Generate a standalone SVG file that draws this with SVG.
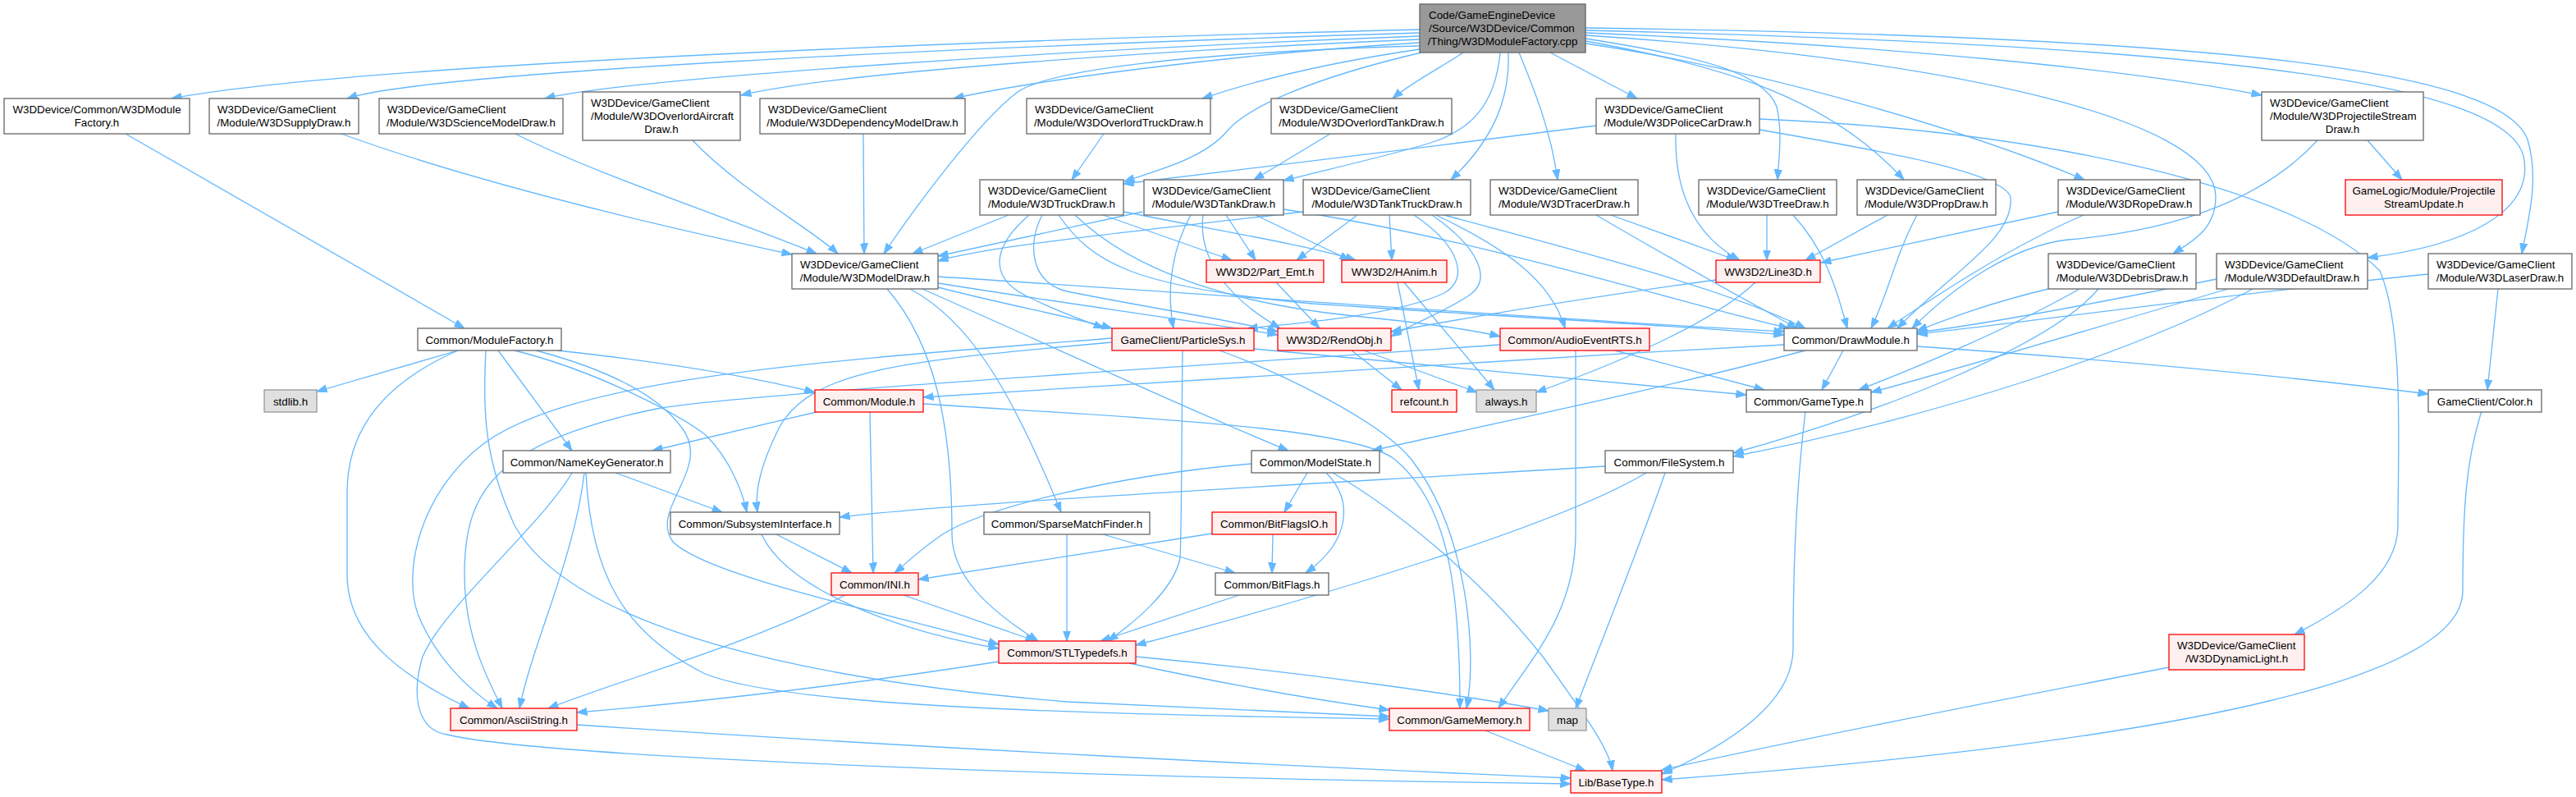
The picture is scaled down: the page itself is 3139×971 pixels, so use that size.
<svg xmlns="http://www.w3.org/2000/svg" width="3139" height="971" viewBox="0 0 3139 971">
<defs>
<marker id="a" markerWidth="14" markerHeight="11" refX="12.5" refY="5" orient="auto" markerUnits="userSpaceOnUse"><path d="M0,0.5 L12.5,5 L0,9.5 z" fill="#63b8ff" stroke="#63b8ff" stroke-width="1"/></marker>
</defs>
<style>
rect{fill:#ffffff;stroke:#666666;stroke-width:1.3}
.r rect{fill:#fff0f0;stroke:#ff0000}
.g rect{fill:#e0e0e0;stroke:#999999}
.root rect{fill:#999999;stroke:#666666}
text{font-family:"Liberation Sans",Arial,Helvetica,sans-serif;font-size:13.33px;fill:#000000}
.m{text-anchor:middle}
#edges path{fill:none;stroke:#63b8ff;stroke-width:1.3;marker-end:url(#a)}
</style>
<rect x="0" y="0" width="3139" height="971" style="fill:#ffffff;stroke:none"/>
<g id="edges">
<path d="M1730,36 C1150,50 420,80 209,120"/>
<path d="M1730,40 C1150,58 520,88 423,120"/>
<path d="M1730,44 C1300,60 760,96 664,120"/>
<path d="M1730,48 C1450,60 1030,86 903,116"/>
<path d="M1730,52 C1500,66 1260,98 1162,120"/>
<path d="M1730,56 C1450,64 1280,85 1240,112 C1190,150 1110,260 1077,309"/>
<path d="M1730,60 C1620,76 1530,98 1465,120"/>
<path d="M1732,64 C1600,95 1520,130 1495,160 C1470,190 1420,205 1370,221"/>
<path d="M1783,64 C1760,80 1720,100 1697,120"/>
<path d="M1828,64 C1822,130 1790,160 1740,175 C1680,193 1610,208 1564,220"/>
<path d="M1838,64 C1840,120 1820,170 1768,219"/>
<path d="M1851,64 C1870,110 1890,160 1898,219"/>
<path d="M1889,64 L1995,120"/>
<path d="M1932,47 C2080,70 2150,90 2165,130 C2172,160 2168,190 2166,219"/>
<path d="M1932,50 C2100,80 2230,120 2320,219"/>
<path d="M1932,53 C2150,85 2400,160 2540,219"/>
<path d="M1932,43 C2350,70 2700,140 2700,240 C2700,280 2670,295 2648,309"/>
<path d="M1932,40 C2300,55 2600,85 2756,116"/>
<path d="M1932,37 C2700,55 3050,100 3075,190 C3090,260 3000,300 2885,314"/>
<path d="M1932,34 C2750,45 3050,90 3080,170 C3095,220 3080,270 3073,309"/>
<path d="M153,163 L566,400"/>
<path d="M416,163 C600,230 850,285 965,310"/>
<path d="M628,163 C720,210 900,270 995,309"/>
<path d="M844,171 C900,230 990,280 1021,309"/>
<path d="M1052,163 L1053,309"/>
<path d="M1345,163 L1306,219"/>
<path d="M1621,163 L1528,219"/>
<path d="M1945,153 C1750,178 1500,208 1369,224"/>
<path d="M2042,163 C2040,240 2070,290 2120,317"/>
<path d="M2144,158 C2300,185 2440,210 2450,240 C2455,290 2380,330 2312,400"/>
<path d="M2144,145 C2500,160 2800,230 2900,330 C2930,400 2922,550 2922,640 C2922,700 2860,740 2796,773"/>
<path d="M2885,171 L2927,219"/>
<path d="M2824,171 C2760,240 2660,280 2520,292 C2450,300 2380,350 2330,400"/>
<path d="M1229,262 L1112,309"/>
<path d="M1344,262 L1501,317"/>
<path d="M1369,258 C1480,280 1600,300 1652,317"/>
<path d="M1254,262 C1210,300 1200,340 1260,365 C1290,380 1320,390 1345,400"/>
<path d="M1270,262 C1250,300 1258,345 1300,355 C1400,375 1500,390 1557,404"/>
<path d="M1290,262 C1330,320 1380,350 1600,370 C1900,390 2100,400 2174,408"/>
<path d="M1310,262 C1380,330 1500,370 1650,385 C1750,395 1800,403 1828,410"/>
<path d="M1392,258 L1143,312"/>
<path d="M1451,262 C1430,300 1420,350 1430,400"/>
<path d="M1466,262 C1460,310 1490,360 1560,400"/>
<path d="M1494,262 L1530,317"/>
<path d="M1530,262 L1645,317"/>
<path d="M1564,255 C1800,290 2050,370 2180,400"/>
<path d="M1588,258 C1400,280 1200,300 1143,318"/>
<path d="M1654,262 L1580,317"/>
<path d="M1693,262 L1696,317"/>
<path d="M1723,262 C1780,300 1790,340 1760,357 C1700,385 1570,395 1520,400"/>
<path d="M1745,262 C1800,300 1820,340 1790,360 C1760,380 1720,395 1695,410"/>
<path d="M1750,262 C1830,300 1890,340 1907,400"/>
<path d="M1760,262 C1900,300 2100,350 2200,400"/>
<path d="M1963,262 L2116,317"/>
<path d="M1945,262 C2010,300 2080,340 2190,400"/>
<path d="M2153,262 L2153,317"/>
<path d="M2185,262 C2220,300 2235,340 2251,400"/>
<path d="M2300,262 L2200,317"/>
<path d="M2336,262 C2310,310 2300,360 2280,400"/>
<path d="M2508,258 L2219,320"/>
<path d="M2539,262 C2450,300 2360,360 2300,400"/>
<path d="M2496,352 C2420,370 2370,390 2336,403"/>
<path d="M2534,352 C2450,400 2330,450 2265,475"/>
<path d="M2557,352 C2500,420 2300,500 2112,552"/>
<path d="M2701,340 C2550,370 2420,395 2336,405"/>
<path d="M2715,352 C2550,400 2350,460 2280,478"/>
<path d="M2745,352 C2600,430 2350,510 2112,556"/>
<path d="M2959,334 C2700,360 2450,395 2336,407"/>
<path d="M3044,352 L3031,475"/>
<path d="M1143,337 C1500,360 1900,390 2174,404"/>
<path d="M1143,345 C1300,370 1450,390 1557,408"/>
<path d="M1143,350 C1220,370 1300,385 1355,400"/>
<path d="M1124,352 C1300,430 1450,500 1570,549"/>
<path d="M1109,352 C1180,390 1230,470 1293,624"/>
<path d="M1081,352 C1140,420 1160,520 1160,650 C1160,700 1200,740 1265,781"/>
<path d="M1555,344 L1608,400"/>
<path d="M1703,344 L1729,475"/>
<path d="M1711,344 L1821,475"/>
<path d="M2091,341 C1950,360 1800,385 1695,404"/>
<path d="M2139,344 C2080,400 1950,450 1872,478"/>
<path d="M1647,427 L1708,475"/>
<path d="M1662,427 L1800,478"/>
<path d="M558,427 L386,477"/>
<path d="M558,427 C460,470 423,530 423,600 L423,700 C423,770 480,820 572,863"/>
<path d="M592,427 C588,500 590,560 627,640 C700,770 1000,830 1300,855 C1500,865 1650,870 1693,873"/>
<path d="M607,427 L697,549"/>
<path d="M627,427 C720,450 820,500 860,530 C890,560 905,600 910,624"/>
<path d="M653,427 C740,450 800,480 830,520 C870,570 790,620 820,660 C860,700 1050,740 1217,785"/>
<path d="M679,427 C800,440 900,455 993,478"/>
<path d="M1355,412 C1000,440 700,460 590,540 C510,600 490,700 510,750 C530,800 570,840 606,863"/>
<path d="M1828,420 C1400,450 900,480 800,498 C600,540 566,600 566,700 C566,770 590,820 612,863"/>
<path d="M1355,417 C1100,440 990,450 950,520 C925,570 920,600 923,624"/>
<path d="M1441,427 C1440,500 1440,640 1438,680 C1430,720 1380,760 1350,781"/>
<path d="M1528,425 C1800,450 2000,470 2128,481"/>
<path d="M1486,427 C1550,450 1680,510 1720,560 C1790,650 1800,800 1787,863"/>
<path d="M1968,427 L2150,475"/>
<path d="M1920,427 L1920,650 C1920,750 1860,810 1826,863"/>
<path d="M2174,420 C1800,440 1400,465 1125,484"/>
<path d="M2246,427 L2220,475"/>
<path d="M2200,427 C2000,480 1800,520 1672,549"/>
<path d="M2336,422 C2600,440 2800,460 2959,480"/>
<path d="M999,501 L795,549"/>
<path d="M1060,501 L1064,698"/>
<path d="M1125,492 C1400,510 1650,520 1700,560 C1760,610 1779,700 1779,863"/>
<path d="M2200,501 C2188,600 2185,700 2185,790 C2185,860 2100,910 2025,943"/>
<path d="M3024,501 C3005,560 3001,620 3001,720 C3001,820 2700,900 2025,950"/>
<path d="M750,576 L880,624"/>
<path d="M712,576 C700,680 650,780 633,863"/>
<path d="M714,576 C720,700 760,770 857,820 C950,860 1300,870 1693,876"/>
<path d="M697,576 C660,640 540,740 515,800 C500,850 510,890 545,895 C650,920 1200,945 1914,955"/>
<path d="M1525,565 C1350,580 1200,620 1150,650 C1120,670 1100,690 1090,698"/>
<path d="M1593,576 L1565,624"/>
<path d="M1616,576 C1650,610 1645,660 1591,698"/>
<path d="M1624,576 C1700,620 1800,700 1880,800 C1930,870 1960,910 1965,939"/>
<path d="M1956,568 C1600,590 1200,610 1023,630"/>
<path d="M2006,576 C1900,640 1600,730 1384,786"/>
<path d="M2029,576 C2000,660 1960,760 1920,863"/>
<path d="M946,651 L1038,698"/>
<path d="M928,651 C960,720 1100,770 1217,790"/>
<path d="M1300,651 L1300,781"/>
<path d="M1344,651 L1505,698"/>
<path d="M1477,650 L1119,706"/>
<path d="M1551,651 L1550,698"/>
<path d="M1101,725 L1262,781"/>
<path d="M1030,725 C900,790 780,820 668,863"/>
<path d="M1510,725 L1341,781"/>
<path d="M1217,806 C1000,840 800,860 703,868"/>
<path d="M1376,808 C1500,835 1620,855 1693,865"/>
<path d="M1384,800 C1600,820 1800,850 1887,866"/>
<path d="M1810,890 L1932,939"/>
<path d="M703,883 C1100,910 1600,935 1914,948"/>
<path d="M2643,813 C2400,860 2150,910 2025,938"/>
</g>
<g id="n_root" class="root"><rect x="1730" y="5" width="202" height="59"/><text x="1741" y="23">Code/GameEngineDevice</text><text x="1741" y="39">/Source/W3DDevice/Common</text><text class="m" x="1831" y="55">/Thing/W3DModuleFactory.cpp</text></g>
<g id="n_w3dmodfac"><rect x="5" y="120" width="226" height="43"/><text class="m" x="118" y="138">W3DDevice/Common/W3DModule</text><text class="m" x="118" y="154">Factory.h</text></g>
<g id="n_supply"><rect x="255" y="120" width="182" height="43"/><text x="265" y="138">W3DDevice/GameClient</text><text class="m" x="346" y="154">/Module/W3DSupplyDraw.h</text></g>
<g id="n_science"><rect x="462" y="120" width="224" height="43"/><text x="472" y="138">W3DDevice/GameClient</text><text class="m" x="574" y="154">/Module/W3DScienceModelDraw.h</text></g>
<g id="n_ovaircraft"><rect x="710" y="112" width="192" height="59"/><text x="720" y="130">W3DDevice/GameClient</text><text x="720" y="146">/Module/W3DOverlordAircraft</text><text class="m" x="806" y="162">Draw.h</text></g>
<g id="n_dependency"><rect x="926" y="120" width="250" height="43"/><text x="936" y="138">W3DDevice/GameClient</text><text class="m" x="1051" y="154">/Module/W3DDependencyModelDraw.h</text></g>
<g id="n_ovtruck"><rect x="1251" y="120" width="224" height="43"/><text x="1261" y="138">W3DDevice/GameClient</text><text class="m" x="1363" y="154">/Module/W3DOverlordTruckDraw.h</text></g>
<g id="n_ovtank"><rect x="1549" y="120" width="220" height="43"/><text x="1559" y="138">W3DDevice/GameClient</text><text class="m" x="1659" y="154">/Module/W3DOverlordTankDraw.h</text></g>
<g id="n_police"><rect x="1945" y="120" width="199" height="43"/><text x="1955" y="138">W3DDevice/GameClient</text><text class="m" x="2044.5" y="154">/Module/W3DPoliceCarDraw.h</text></g>
<g id="n_projdraw"><rect x="2756" y="112" width="197" height="59"/><text x="2766" y="130">W3DDevice/GameClient</text><text x="2766" y="146">/Module/W3DProjectileStream</text><text class="m" x="2854.5" y="162">Draw.h</text></g>
<g id="n_truck"><rect x="1194" y="219" width="175" height="43"/><text x="1204" y="237">W3DDevice/GameClient</text><text class="m" x="1281.5" y="253">/Module/W3DTruckDraw.h</text></g>
<g id="n_tank"><rect x="1394" y="219" width="170" height="43"/><text x="1404" y="237">W3DDevice/GameClient</text><text class="m" x="1479" y="253">/Module/W3DTankDraw.h</text></g>
<g id="n_tanktruck"><rect x="1588" y="219" width="204" height="43"/><text x="1598" y="237">W3DDevice/GameClient</text><text class="m" x="1690" y="253">/Module/W3DTankTruckDraw.h</text></g>
<g id="n_tracer"><rect x="1816" y="219" width="180" height="43"/><text x="1826" y="237">W3DDevice/GameClient</text><text class="m" x="1906" y="253">/Module/W3DTracerDraw.h</text></g>
<g id="n_tree"><rect x="2070" y="219" width="168" height="43"/><text x="2080" y="237">W3DDevice/GameClient</text><text class="m" x="2154" y="253">/Module/W3DTreeDraw.h</text></g>
<g id="n_prop"><rect x="2263" y="219" width="169" height="43"/><text x="2273" y="237">W3DDevice/GameClient</text><text class="m" x="2347.5" y="253">/Module/W3DPropDraw.h</text></g>
<g id="n_rope"><rect x="2508" y="219" width="173" height="43"/><text x="2518" y="237">W3DDevice/GameClient</text><text class="m" x="2594.5" y="253">/Module/W3DRopeDraw.h</text></g>
<g id="n_projupd" class="r"><rect x="2858" y="219" width="191" height="43"/><text class="m" x="2953.5" y="237">GameLogic/Module/Projectile</text><text class="m" x="2953.5" y="253">StreamUpdate.h</text></g>
<g id="n_modeldraw"><rect x="965" y="309" width="178" height="43"/><text x="975" y="327">W3DDevice/GameClient</text><text class="m" x="1054" y="343">/Module/W3DModelDraw.h</text></g>
<g id="n_debris"><rect x="2496" y="309" width="180" height="43"/><text x="2506" y="327">W3DDevice/GameClient</text><text class="m" x="2586" y="343">/Module/W3DDebrisDraw.h</text></g>
<g id="n_default"><rect x="2701" y="309" width="184" height="43"/><text x="2711" y="327">W3DDevice/GameClient</text><text class="m" x="2793" y="343">/Module/W3DDefaultDraw.h</text></g>
<g id="n_laser"><rect x="2959" y="309" width="175" height="43"/><text x="2969" y="327">W3DDevice/GameClient</text><text class="m" x="3046.5" y="343">/Module/W3DLaserDraw.h</text></g>
<g id="n_partemt" class="r"><rect x="1470" y="317" width="143" height="27"/><text class="m" x="1541.5" y="335.5">WW3D2/Part_Emt.h</text></g>
<g id="n_hanim" class="r"><rect x="1635" y="317" width="128" height="27"/><text class="m" x="1699" y="335.5">WW3D2/HAnim.h</text></g>
<g id="n_line3d" class="r"><rect x="2091" y="317" width="127" height="27"/><text class="m" x="2154.5" y="335.5">WW3D2/Line3D.h</text></g>
<g id="n_modfac"><rect x="509" y="400" width="175" height="27"/><text class="m" x="596.5" y="418.5">Common/ModuleFactory.h</text></g>
<g id="n_particle" class="r"><rect x="1355" y="400" width="173" height="27"/><text class="m" x="1441.5" y="418.5">GameClient/ParticleSys.h</text></g>
<g id="n_rendobj" class="r"><rect x="1557" y="400" width="138" height="27"/><text class="m" x="1626" y="418.5">WW3D2/RendObj.h</text></g>
<g id="n_audio" class="r"><rect x="1828" y="400" width="182" height="27"/><text class="m" x="1919" y="418.5">Common/AudioEventRTS.h</text></g>
<g id="n_drawmod"><rect x="2174" y="400" width="162" height="27"/><text class="m" x="2255" y="418.5">Common/DrawModule.h</text></g>
<g id="n_stdlib" class="g"><rect x="322" y="475" width="64" height="27"/><text class="m" x="354" y="493.5">stdlib.h</text></g>
<g id="n_module" class="r"><rect x="993" y="475" width="132" height="27"/><text class="m" x="1059" y="493.5">Common/Module.h</text></g>
<g id="n_retcount" class="r"><rect x="1696" y="475" width="79" height="27"/><text class="m" x="1735.5" y="493.5">refcount.h</text></g>
<g id="n_always" class="g"><rect x="1799" y="475" width="73" height="27"/><text class="m" x="1835.5" y="493.5">always.h</text></g>
<g id="n_gametype"><rect x="2128" y="475" width="152" height="27"/><text class="m" x="2204" y="493.5">Common/GameType.h</text></g>
<g id="n_color"><rect x="2959" y="475" width="138" height="27"/><text class="m" x="3028" y="493.5">GameClient/Color.h</text></g>
<g id="n_namekey"><rect x="613" y="549" width="204" height="27"/><text class="m" x="715" y="567.5">Common/NameKeyGenerator.h</text></g>
<g id="n_modelstate"><rect x="1525" y="549" width="156" height="27"/><text class="m" x="1603" y="567.5">Common/ModelState.h</text></g>
<g id="n_filesystem"><rect x="1956" y="549" width="156" height="27"/><text class="m" x="2034" y="567.5">Common/FileSystem.h</text></g>
<g id="n_subsys"><rect x="817" y="624" width="206" height="27"/><text class="m" x="920" y="642.5">Common/SubsystemInterface.h</text></g>
<g id="n_sparse"><rect x="1199" y="624" width="202" height="27"/><text class="m" x="1300" y="642.5">Common/SparseMatchFinder.h</text></g>
<g id="n_bitflagsio" class="r"><rect x="1477" y="624" width="151" height="27"/><text class="m" x="1552.5" y="642.5">Common/BitFlagsIO.h</text></g>
<g id="n_ini" class="r"><rect x="1013" y="698" width="106" height="27"/><text class="m" x="1066" y="716.5">Common/INI.h</text></g>
<g id="n_bitflags"><rect x="1481" y="698" width="138" height="27"/><text class="m" x="1550" y="716.5">Common/BitFlags.h</text></g>
<g id="n_stl" class="r"><rect x="1217" y="781" width="167" height="27"/><text class="m" x="1300.5" y="799.5">Common/STLTypedefs.h</text></g>
<g id="n_dynlight" class="r"><rect x="2643" y="773" width="165" height="43"/><text x="2653" y="791">W3DDevice/GameClient</text><text class="m" x="2725.5" y="807">/W3DDynamicLight.h</text></g>
<g id="n_ascii" class="r"><rect x="549" y="863" width="154" height="27"/><text class="m" x="626" y="881.5">Common/AsciiString.h</text></g>
<g id="n_gamemem" class="r"><rect x="1693" y="863" width="171" height="27"/><text class="m" x="1778.5" y="881.5">Common/GameMemory.h</text></g>
<g id="n_map" class="g"><rect x="1887" y="863" width="46" height="27"/><text class="m" x="1910" y="881.5">map</text></g>
<g id="n_basetype" class="r"><rect x="1914" y="939" width="111" height="27"/><text class="m" x="1969.5" y="957.5">Lib/BaseType.h</text></g>
</svg>
